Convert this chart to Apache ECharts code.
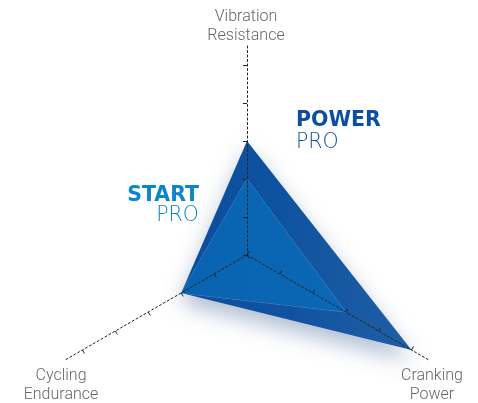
<!DOCTYPE html>
<html><head><meta charset="utf-8">
<script src="https://cdn.jsdelivr.net/npm/echarts@6/dist/echarts.min.js"></script>
<style>html,body{margin:0;padding:0;background:#fff}#c{width:478px;height:403px}</style>
</head><body><div id="c"></div>
<script>
var indicators = ['Vibration\nResistance', 'Cycling\nEndurance', 'Cranking\nPower'];
var maxValue = 5;
var powerPro = [3, 2, 5];
var startPro = [2, 2, 3];
var seriesNames = ['POWER PRO', 'START PRO'];

var chart = echarts.init(document.getElementById('c'));
var C = [247, 255];
var ind = indicators.map(function (n) { return { name: n, max: maxValue }; });
var labelFont = '300 16px Roboto';
chart.setOption({
  animation: false,
  radar: [{
    center: C, radius: 190, startAngle: 90, splitNumber: 5, shape: 'polygon', z: 5,
    indicator: ind,
    axisName: { show: false },
    axisLine: { show: false },
    axisTick: { show: true, length: 4, lineStyle: { color: '#222', width: 1 } },
    splitLine: { show: false }, splitArea: { show: false }
  }, {
    center: C, radius: 209, startAngle: 90, splitNumber: 5, shape: 'polygon', z: 5,
    indicator: ind,
    axisName: { show: false },
    axisLine: { show: true, lineStyle: { color: '#222', width: 1, type: [2, 2.5] } },
    axisTick: { show: false },
    splitLine: { show: false }, splitArea: { show: false }
  }],
  series: [{
    type: 'radar', radarIndex: 0, z: 2, symbol: 'none',
    data: [{
      name: seriesNames[0], value: powerPro,
      lineStyle: { width: 0 },
      areaStyle: {
        opacity: 1,
        color: new echarts.graphic.LinearGradient(0, 0, 1, 0, [
          { offset: 0, color: '#0c4e9d' }, { offset: 0.45, color: '#0f52a0' }, { offset: 1, color: '#215fa5' }
        ]),
        shadowBlur: 22, shadowColor: 'rgba(20,60,120,0.35)', shadowOffsetY: 10
      }
    }, {
      name: seriesNames[1], value: startPro,
      lineStyle: { width: 1, color: 'rgba(120,175,225,0.6)' },
      areaStyle: {
        opacity: 1,
        color: new echarts.graphic.LinearGradient(0, 0, 1, 0, [
          { offset: 0, color: '#0862b0' }, { offset: 1, color: '#0b68b4' }
        ])
      }
    }]
  }],
  graphic: [
    { type: 'text', x: 246, y: 7, style: { text: indicators[0], align: 'center', font: labelFont, fill: '#666', lineHeight: 19 } },
    { type: 'text', x: 61, y: 366, style: { text: indicators[1], align: 'center', font: labelFont, fill: '#666', lineHeight: 19 } },
    { type: 'text', x: 432, y: 366, style: { text: indicators[2], align: 'center', font: labelFont, fill: '#666', lineHeight: 19 } },
    { type: 'text', x: 296, y: 110, style: { text: 'POWER', font: 'bold 20.5px "DejaVu Sans"', fill: '#0d4f9e' } },
    { type: 'text', x: 296, y: 132, style: { text: 'PRO', font: '200 20.5px "DejaVu Sans"', fill: '#0d4f9e' } },
    { type: 'text', x: 199, y: 185, style: { text: 'START', align: 'right', font: 'bold 20.5px "DejaVu Sans"', fill: '#0a86cc' } },
    { type: 'text', x: 199, y: 205, style: { text: 'PRO', align: 'right', font: '200 20.5px "DejaVu Sans"', fill: '#0a86cc' } }
  ]
});
</script></body></html>
